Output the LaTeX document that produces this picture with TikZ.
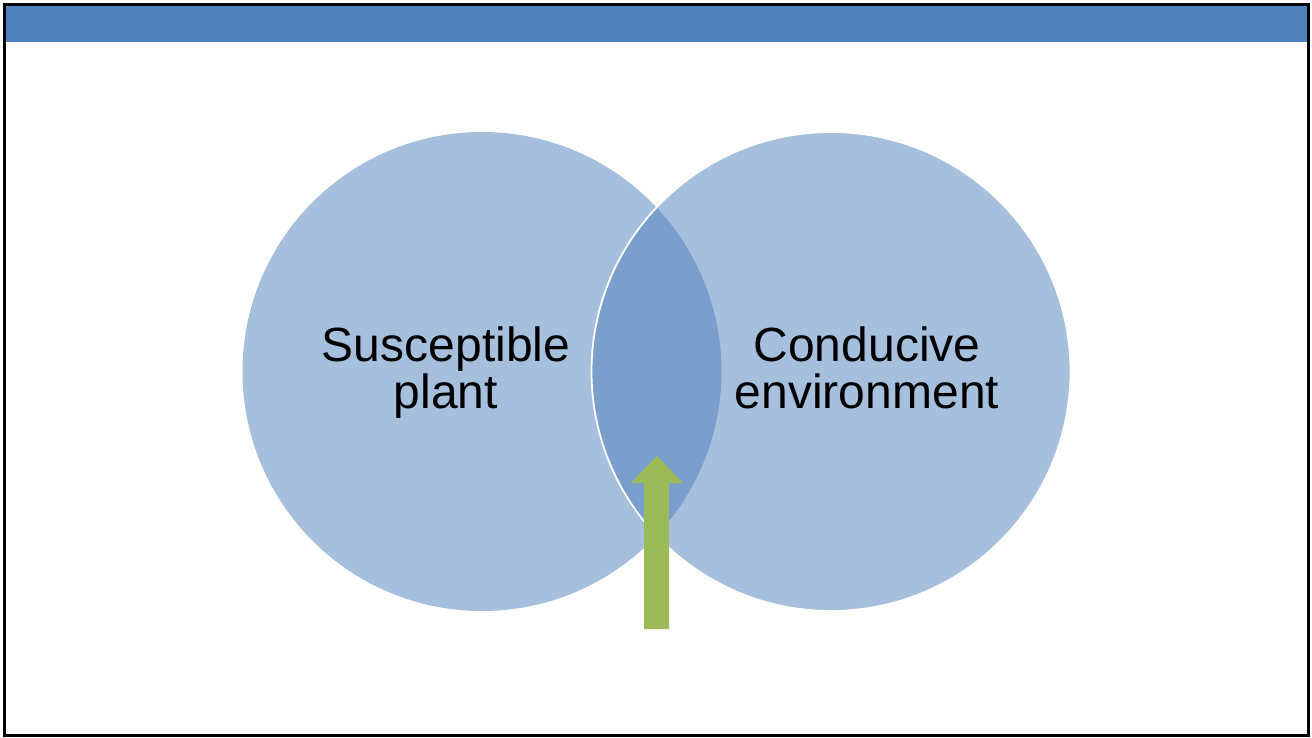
\documentclass[tikz,border=0pt]{standalone}
\usepackage{fontspec}
\setmainfont{Liberation Sans}
\definecolor{barblue}{RGB}{79,129,189}
\definecolor{arrowgreen}{RGB}{155,187,89}
\begin{document}
\begin{tikzpicture}[x=0.5pt,y=-0.5pt,
  setbubble/.style={circle, minimum size=239.5pt, inner sep=0pt, outer sep=0pt,
    fill=barblue, fill opacity=0.5},
  label text/.style={align=center, font=\fontsize{24pt}{23.5pt}\selectfont, text=black,
    inner sep=0pt, anchor=base},
  uparrow/.style={fill=arrowgreen}]
  % page area and frame
  \useasboundingbox (0,0) rectangle (1312,738);
  \fill[white] (0,0) rectangle (1312,738);
  \fill[barblue] (6,6) rectangle (1307,42);
  \draw[line width=1.5pt, black] (4.5,4.5) rectangle (1308.5,735.5);
  % the two overlapping sets
  \node[setbubble] (plant) at (482,371.5) {};
  \node[setbubble, draw=white, draw opacity=1, line width=0.9pt] (env) at (831,371.5) {};
  % labels (anchored at the baseline of the second line)
  \node[label text] (plantlbl) at (446,408) {Susceptible\\plant};
  \node[label text] (envlbl) at (867,408) {Conducive\\environment};
  % arrow pointing into the overlap
  \fill[uparrow] (644,629) -- (669,629) -- (669,483) -- (683,483) -- (657,456)
    -- (631,483) -- (644,483) -- cycle;
\end{tikzpicture}
\end{document}
